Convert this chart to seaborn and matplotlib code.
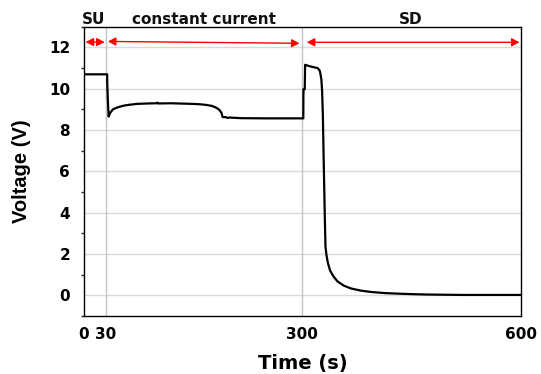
import matplotlib
matplotlib.use("Agg")
import matplotlib.pyplot as plt
import matplotlib.transforms as mtransforms
import seaborn as sns
import pandas as pd

# ---- data ----
time_s = [0, 32.0, 32.1, 33.0, 34.0, 36, 40, 47, 54, 63, 73, 88, 100, 101, 102, 120, 149, 160, 168, 176, 182, 186, 189, 190.4,
          195, 197, 200, 215, 250, 300, 301.2, 301.4, 303.2, 303.7, 310, 316, 321, 324, 326, 327, 328, 329, 330.5, 331.6,
          333, 335, 338, 342.5, 348, 356.7, 367, 380, 395, 413, 440, 470, 520, 600]
voltage_v = [10.69, 10.69, 10.26, 9.4, 8.65, 8.82, 9.0, 9.1, 9.17, 9.22, 9.26, 9.28, 9.29, 9.32, 9.28, 9.29, 9.26, 9.24, 9.21, 9.16, 9.07, 8.97, 8.82, 8.62,
             8.62, 8.58, 8.6, 8.57, 8.56, 8.56, 8.56, 9.97, 9.97, 11.15, 11.08, 11.03, 10.99, 10.85, 10.45, 9.9, 8.8, 6.9, 4.2, 2.37,
             1.95, 1.56, 1.2, 0.92, 0.68, 0.47, 0.33, 0.23, 0.16, 0.11, 0.07, 0.04, 0.02, 0.02]

phase_labels = ["SU", "constant current", "SD"]
phase_label_x = [14, 165, 448]
phase_arrow_start = [2.4, 33, 306]
phase_arrow_end = [28.5, 296, 598]
phase_arrow_y0 = [12.25, 12.28, 12.24]
phase_arrow_y1 = [12.25, 12.19, 12.24]

x_ticks = [0, 30, 300, 600]
y_ticks = [0, 2, 4, 6, 8, 10, 12]
y_minor = [-1, 1, 3, 5, 7, 9, 11, 13]

df = pd.DataFrame({"Time (s)": time_s, "Voltage (V)": voltage_v})

sns.set_style("white")
plt.rcParams["font.family"] = ["DejaVu Sans"]
plt.rcParams["text.color"] = "black"
plt.rcParams["axes.labelcolor"] = "black"

fig = plt.figure(figsize=(5.41, 3.74), dpi=100)
ax = fig.add_axes([0.155, 0.155, 0.808, 0.774])

# grid lines
for y in y_ticks:
    ax.axhline(y, color="#d9d9d9", lw=1.0, zorder=0)
for x in [30, 300]:
    ax.axvline(x, color="#c4c4c4", lw=1.0, zorder=0)

sns.lineplot(data=df, x="Time (s)", y="Voltage (V)", ax=ax, color="black", lw=1.6, sort=False,
             estimator=None, zorder=3)

ax.set_xlim(0, 600)
ax.set_ylim(-1, 13)
ax.set_xticks(x_ticks)
ax.set_xticklabels([str(v) for v in x_ticks])
ax.set_yticks(y_ticks)
ax.set_yticks(y_minor, minor=True)

for s in ax.spines.values():
    s.set_color("black")
    s.set_linewidth(1.0)

ax.tick_params(axis="x", which="major", direction="inout", length=3.6, width=1, pad=6,
               labelsize=11, colors="black")
ax.tick_params(axis="y", which="major", direction="out", length=4.8, width=1, pad=5,
               labelsize=11, colors="black")
ax.tick_params(axis="y", which="minor", direction="out", length=2.4, width=1, left=True)
for lab in ax.get_xticklabels() + ax.get_yticklabels():
    lab.set_fontweight("bold")

ax.set_xlabel("Time (s)", fontsize=14, fontweight="bold", color="black")
ax.xaxis.set_label_coords(0.5, -0.132)
ax.set_ylabel("Voltage (V)", fontsize=14.5, fontweight="bold", color="black",
              family=["Liberation Sans", "DejaVu Sans"])
ax.yaxis.set_label_coords(-0.122, 0.5)

# phase labels and arrows
trans = mtransforms.blended_transform_factory(ax.transData, ax.transAxes)
for lab, xc in zip(phase_labels, phase_label_x):
    ax.text(xc, 1.009, lab, transform=trans, ha="center", va="baseline",
            fontsize=11, fontweight="bold", color="#111111")
for xs, xe, y0, y1 in zip(phase_arrow_start, phase_arrow_end, phase_arrow_y0, phase_arrow_y1):
    ax.annotate("", xy=(xe, y1), xytext=(xs, y0),
                arrowprops=dict(arrowstyle="<|-|>,head_length=0.42,head_width=0.22", color="red", lw=1.0,
                                mutation_scale=11, shrinkA=0, shrinkB=0))

fig.savefig("out.png", dpi=100)
